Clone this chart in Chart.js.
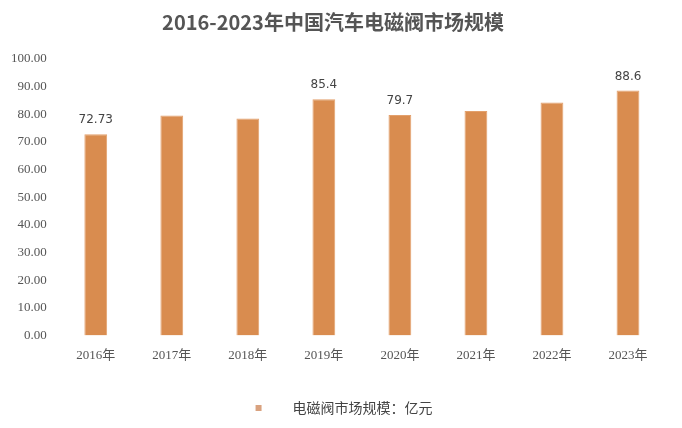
<!DOCTYPE html>
<html>
<head>
<meta charset="utf-8">
<script src="https://cdn.jsdelivr.net/npm/chart.js@4"></script>
<style>
  html, body { margin: 0; padding: 0; background: #fff; }
  #wrap { width: 682px; height: 428px; }
</style>
</head>
<body>
<div id="wrap"><canvas id="chart" width="682" height="428"></canvas></div>
<script>
const years = ['2016年', '2017年', '2018年', '2019年', '2020年', '2021年', '2022年', '2023年']
const marketSize = [72.73, 79.6, 78.5, 85.4, 79.7, 81.2, 84.3, 88.6]
const shownLabels = ['72.73', null, null, '85.4', '79.7', null, null, '88.6']
const yTicks = [0, 10, 20, 30, 40, 50, 60, 70, 80, 90, 100]

const barColor = '#d98c4f'
const tickFont = { family: '"Liberation Serif", "Noto Sans CJK SC", serif', size: 13 }

// legend marker: small square inside a wider transparent box (sets the gap to the text)
const marker = document.createElement('canvas')
marker.width = 52
marker.height = 8
const mctx = marker.getContext('2d')
mctx.fillStyle = '#d9a27f'
mctx.fillRect(22, 1, 6, 6)

const valueLabels = {
  id: 'valueLabels',
  afterDatasetsDraw(chart) {
    const ctx = chart.ctx
    const meta = chart.getDatasetMeta(0)
    ctx.save()
    ctx.fillStyle = '#444'
    ctx.font = '12px "DejaVu Sans", sans-serif'
    ctx.textAlign = 'center'
    ctx.textBaseline = 'bottom'
    meta.data.forEach((bar, i) => {
      if (shownLabels[i]) {
        ctx.fillText(shownLabels[i], bar.x, bar.y - 8)
      }
    })
    ctx.restore()
  },
}

new Chart(document.getElementById('chart').getContext('2d'), {
  type: 'bar',
  data: {
    labels: years,
    datasets: [
      {
        label: '电磁阀市场规模：亿元',
        data: marketSize,
        backgroundColor: barColor,
        borderColor: '#e3a06c',
        borderWidth: 1,
        barPercentage: 0.6,
        categoryPercentage: 0.5,
        pointStyle: marker,
      },
    ],
  },
  options: {
    animation: false,
    responsive: false,
    layout: {
      padding: { left: 0, right: 16, top: 0, bottom: 3 },
    },
    plugins: {
      title: {
        display: true,
        text: '2016-2023年中国汽车电磁阀市场规模',
        color: '#555',
        font: { family: '"Noto Sans CJK SC", sans-serif', size: 20, weight: 'bold' },
        padding: { top: 10, bottom: 25 },
      },
      legend: {
        position: 'bottom',
        labels: {
          usePointStyle: true,
          pointStyleWidth: 52,
          color: '#444',
          font: { family: '"Noto Sans CJK SC", sans-serif', size: 14 },
          padding: 21,
        },
      },
      tooltip: { enabled: false },
    },
    scales: {
      x: {
        grid: { display: false, drawTicks: false },
        border: { display: false },
        ticks: { color: '#555', font: tickFont, padding: 12 },
        afterFit: (axis) => {
          axis.height += 5
        },
      },
      y: {
        min: 0,
        max: 100,
        afterBuildTicks: (axis) => {
          axis.ticks = yTicks.map((v) => ({ value: v }))
        },
        grid: { display: false, drawTicks: false },
        border: { display: false },
        ticks: {
          color: '#555',
          font: tickFont,
          padding: 11,
          callback: (v) => Number(v).toFixed(2),
        },
      },
    },
  },
  plugins: [valueLabels],
})
</script>
</body>
</html>
